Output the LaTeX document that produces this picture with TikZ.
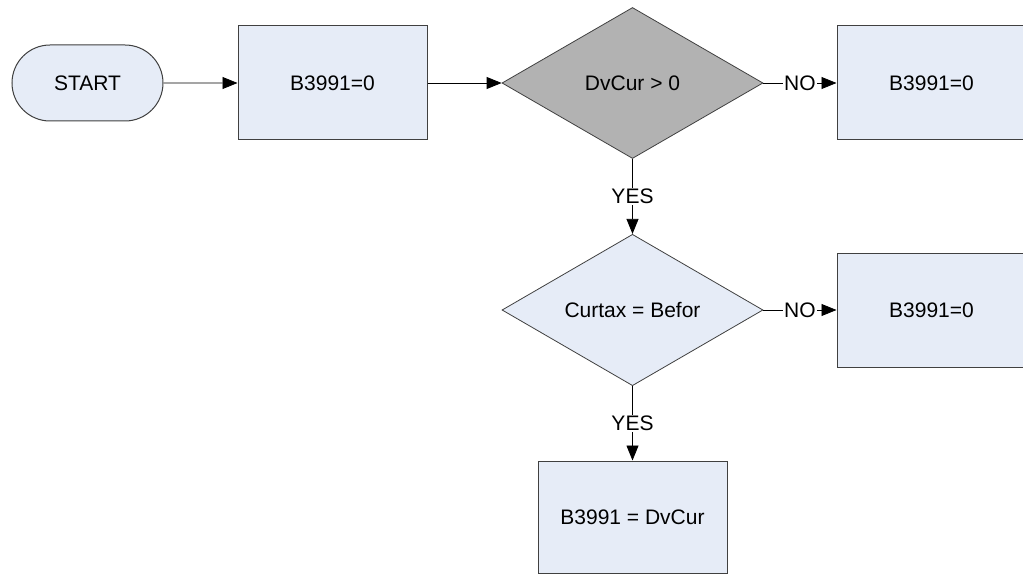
\documentclass[tikz,border=0pt]{standalone}
\usepackage{fontspec}
\setmainfont{Liberation Sans}
\usetikzlibrary{shapes.geometric,shapes.misc,arrows.meta}
\definecolor{boxfill}{HTML}{E6ECF7}
\definecolor{decgray}{HTML}{B2B2B2}
\definecolor{edgegray}{HTML}{404040}
\begin{document}
\begin{tikzpicture}[x=1pt,y=-1pt,
  every node/.style={font=\fontsize{21}{25}\selectfont},
  procbox/.style={draw=edgegray,line width=1pt,fill=boxfill,rectangle,minimum width=189pt,minimum height=114pt,inner sep=0pt},
  termbox/.style={draw=edgegray,line width=1pt,fill=boxfill,rounded rectangle,minimum width=151pt,minimum height=76pt,inner sep=0pt},
  decbox/.style={draw=edgegray,line width=0.8pt,diamond,minimum width=261pt,minimum height=151pt,inner sep=0pt},
  flow/.style={draw=black,line width=0.8pt,-{Triangle[length=15pt,width=12pt]}},
  lbl/.style={fill=white,inner sep=1pt}]
\useasboundingbox (0,0) rectangle (1023,575);
\node[termbox] (start) at (87.5,83) {START};
\node[procbox] (b1) at (332.5,83) {B3991=0};
\node[decbox,fill=decgray] (d1) at (632.5,83) {DvCur > 0};
\node[procbox] (r1) at (931.5,83) {B3991=0};
\node[decbox,fill=boxfill] (d2) at (632.5,310) {Curtax = Befor};
\node[procbox] (r2) at (931.5,310) {B3991=0};
\node[procbox,minimum height=112pt] (b3) at (632.5,517) {B3991 = DvCur};
\draw[flow] (start) -- (b1);
\draw[flow] (b1) -- (d1);
\draw[flow] (d1.east) -- node[lbl] {NO} (r1.west);
\draw[flow] (d1.south) -- node[lbl] {YES} (d2.north);
\draw[flow] (d2.east) -- node[lbl] {NO} (r2.west);
\draw[flow] (d2.south) -- node[lbl] {YES} (b3.north);
\end{tikzpicture}
\end{document}
